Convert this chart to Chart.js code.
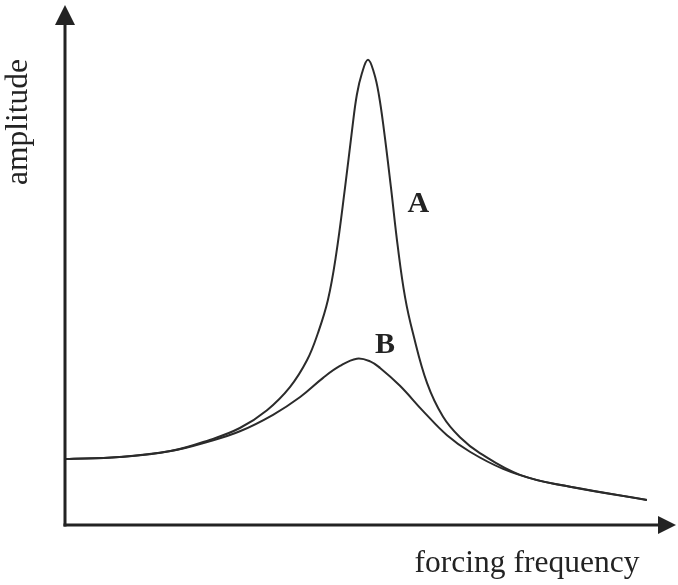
<!DOCTYPE html>
<html>
<head>
<meta charset="utf-8">
<script src="https://cdn.jsdelivr.net/npm/chart.js@4.4.1/dist/chart.umd.min.js"></script>
<style>
  html, body { margin: 0; padding: 0; background: #ffffff; }
  #wrap { width: 678px; height: 585px; }
</style>
</head>
<body>
<div id="wrap"><canvas id="c" width="678" height="585"></canvas></div>
<script>
// Forcing frequency (relative to natural frequency) and amplitude (relative to static amplitude)
const freqA = [0.00, 0.18, 0.35, 0.48, 0.58, 0.67, 0.746, 0.803, 0.839, 0.872, 0.899, 0.929, 0.952, 0.968, 0.985, 1.005, 1.025, 1.041, 1.058, 1.081, 1.104, 1.128, 1.154, 1.201, 1.254, 1.310, 1.376, 1.509, 1.675, 1.93];
const ampA  = [1.00, 1.03, 1.12, 1.29, 1.47, 1.74, 2.09, 2.50, 2.91, 3.41, 4.09, 5.12, 5.98, 6.52, 6.85, 7.05, 6.85, 6.52, 5.98, 5.12, 4.21, 3.45, 2.91, 2.15, 1.64, 1.33, 1.09, 0.76, 0.58, 0.38];

const freqB = [0.00, 0.18, 0.35, 0.48, 0.58, 0.69, 0.78, 0.856, 0.912, 0.968, 1.012, 1.045, 1.111, 1.187, 1.267, 1.343, 1.453, 1.566, 1.675, 1.93];
const ampB  = [1.00, 1.03, 1.12, 1.27, 1.42, 1.67, 1.94, 2.23, 2.41, 2.52, 2.48, 2.38, 2.11, 1.73, 1.36, 1.11, 0.85, 0.68, 0.58, 0.38];

const xRange = [0, 2];
const yRange = [0, 7.88];

const curveLabels = ["A", "B"];
const axisTitles = { x: "forcing frequency", y: "amplitude" };

const toPts = (xs, ys) => xs.map((x, i) => ({ x: x, y: ys[i] }));

const ink = '#232323';
const serif = '"Liberation Serif", "DejaVu Serif", serif';

const annot = {
  id: 'annot',
  afterDraw(chart) {
    const { ctx, chartArea: ca, scales } = chart;
    const xs = scales.x;
    const x0 = ca.left, y0 = ca.bottom;
    ctx.save();
    ctx.strokeStyle = ink;
    ctx.fillStyle = ink;
    ctx.lineWidth = 3;
    ctx.lineCap = 'butt';
    // y axis
    ctx.beginPath();
    ctx.moveTo(x0, y0 + 1.5);
    ctx.lineTo(x0, ca.top + 18);
    ctx.stroke();
    ctx.beginPath();
    ctx.moveTo(x0, ca.top);
    ctx.lineTo(x0 - 10, ca.top + 20);
    ctx.lineTo(x0 + 10, ca.top + 20);
    ctx.closePath();
    ctx.fill();
    // x axis
    const xEnd = 676;
    ctx.beginPath();
    ctx.moveTo(x0 - 1.5, y0);
    ctx.lineTo(xEnd - 16, y0);
    ctx.stroke();
    ctx.beginPath();
    ctx.moveTo(xEnd, y0);
    ctx.lineTo(xEnd - 18, y0 - 9);
    ctx.lineTo(xEnd - 18, y0 + 9);
    ctx.closePath();
    ctx.fill();

    // axis titles
    ctx.font = '31.5px ' + serif;
    ctx.textAlign = 'center';
    ctx.textBaseline = 'alphabetic';
    ctx.fillText(axisTitles.x, 527, 572);
    ctx.save();
    ctx.translate(27, 122);
    ctx.rotate(-Math.PI / 2);
    ctx.fillText(axisTitles.y, 0, 0);
    ctx.restore();

    // curve labels
    ctx.font = 'bold 30px ' + serif;
    ctx.textBaseline = 'alphabetic';
    ctx.fillText(curveLabels[0], xs.getPixelForValue(1.172), 212);
    ctx.fillText(curveLabels[1], xs.getPixelForValue(1.061), 353);
    ctx.restore();
  }
};

new Chart(document.getElementById('c'), {
  type: 'line',
  data: {
    datasets: [
      { label: curveLabels[0], data: toPts(freqA, ampA) },
      { label: curveLabels[1], data: toPts(freqB, ampB) }
    ].map(d => Object.assign(d, {
      borderColor: '#2b2b2b',
      borderWidth: 2,
      pointRadius: 0,
      fill: false,
      tension: 0.4
    }))
  },
  options: {
    responsive: false,
    animation: false,
    devicePixelRatio: 1,
    layout: { padding: { left: 65, right: 10, top: 5, bottom: 60 } },
    plugins: { legend: { display: false }, tooltip: { enabled: false } },
    scales: {
      x: { type: 'linear', min: xRange[0], max: xRange[1], display: false },
      y: { type: 'linear', min: yRange[0], max: yRange[1], display: false }
    }
  },
  plugins: [annot]
});
</script>
</body>
</html>
